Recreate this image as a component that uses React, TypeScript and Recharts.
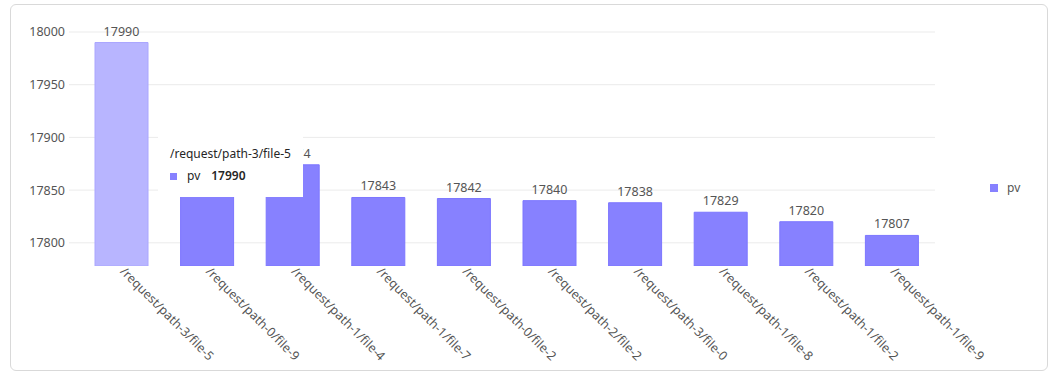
import React from 'react';
import { BarChart, Bar, XAxis, YAxis, CartesianGrid, Tooltip, Legend, LabelList, Cell } from 'recharts';

const categories = [
  '/request/path-3/file-5',
  '/request/path-0/file-9',
  '/request/path-1/file-4',
  '/request/path-1/file-7',
  '/request/path-0/file-2',
  '/request/path-2/file-2',
  '/request/path-3/file-0',
  '/request/path-1/file-8',
  '/request/path-1/file-2',
  '/request/path-1/file-9',
];
const pvValues = [17990, 17880, 17874, 17843, 17842, 17840, 17838, 17829, 17820, 17807];
const yTicks = [17800, 17850, 17900, 17950, 18000];
const yDomain = [17778, 18000];

const data = categories.map((name, i) => ({ name, pv: pvValues[i] }));

const BAR = '#8781ff';
const BAR_STROKE = '#7c76ff';
const ACTIVE = '#b8b5ff';
const ACTIVE_STROKE = '#aaa6ff';
const TEXT = '#555';
const GRID = '#ebebeb';
const FONT = "'Noto Sans', 'Open Sans', sans-serif";

const XTick = (props: any) => {
  const { x, y, payload } = props;
  return (
    <g transform={`translate(${x + 2},${y})`}>
      <text x={0} y={0} dy={6} transform="rotate(45)" textAnchor="start" fill={TEXT} fontSize={12.5}>
        {payload.value}
      </text>
    </g>
  );
};

const TipContent = (props: any) => {
  const { active, payload, label } = props;
  if (!active || !payload || !payload.length) return null;
  return (
    <div style={{ background: '#fff', padding: '13px 12px 13px 12px', fontSize: 12, color: '#262626', whiteSpace: 'nowrap', fontFamily: FONT }}>
      <div style={{ lineHeight: '16px', fontWeight: 400 }}>{label}</div>
      <div style={{ lineHeight: '16px', marginTop: 6, display: 'flex', alignItems: 'center' }}>
        <span style={{ display: 'inline-block', width: 7, height: 7, background: BAR, marginRight: 10 }} />
        <span style={{ marginRight: 11 }}>pv</span>
        <span style={{ fontWeight: 600 }}>{payload[0].value}</span>
      </div>
    </div>
  );
};

const LegendContent = () => (
  <div style={{ width: 100, paddingLeft: 55, boxSizing: 'border-box', display: 'flex', alignItems: 'center', fontSize: 12, color: TEXT, fontFamily: FONT }}>
    <span style={{ display: 'inline-block', width: 8, height: 8, background: BAR, marginRight: 9 }} />
    <span>pv</span>
  </div>
);

export default function App() {
  return (
    <div
      style={{
        position: 'absolute',
        left: 10,
        top: 4,
        width: 1038,
        height: 367,
        border: '1px solid #d9d9d9',
        borderRadius: 6,
        boxSizing: 'border-box',
        background: '#fff',
        fontFamily: FONT,
      }}
    >
      <BarChart width={1036} height={365} data={data} margin={{ top: 27, right: 12, bottom: 14, left: 8 }}>
        <CartesianGrid vertical={false} stroke={GRID} horizontalValues={yTicks} />
        <XAxis dataKey="name" axisLine={false} tickLine={false} tickSize={0} height={90} interval={0} tick={<XTick />} />
        <YAxis
          domain={yDomain}
          ticks={yTicks}
          allowDataOverflow
          width={60}
          axisLine={false}
          tickSize={10}
          tickMargin={4}
          tickLine={{ stroke: GRID }}
          tick={{ fill: TEXT, fontSize: 12.5 }}
        />
        <Tooltip
          defaultIndex={0}
          active
          cursor={false}
          position={{ x: 147, y: 128 }}
          content={<TipContent />}
          isAnimationActive={false}
          wrapperStyle={{ outline: 'none' }}
        />
        <Legend layout="vertical" align="right" verticalAlign="middle" content={<LegendContent />} />
        <Bar dataKey="pv" barSize={53} fill={BAR} stroke={BAR_STROKE} strokeWidth={1} isAnimationActive={false}>
          {data.map((d, i) => (
            <Cell key={d.name} fill={i === 0 ? ACTIVE : BAR} stroke={i === 0 ? ACTIVE_STROKE : BAR_STROKE} />
          ))}
          <LabelList dataKey="pv" position="top" offset={7} fill={TEXT} fontSize={12.5} />
        </Bar>
      </BarChart>
    </div>
  );
}
